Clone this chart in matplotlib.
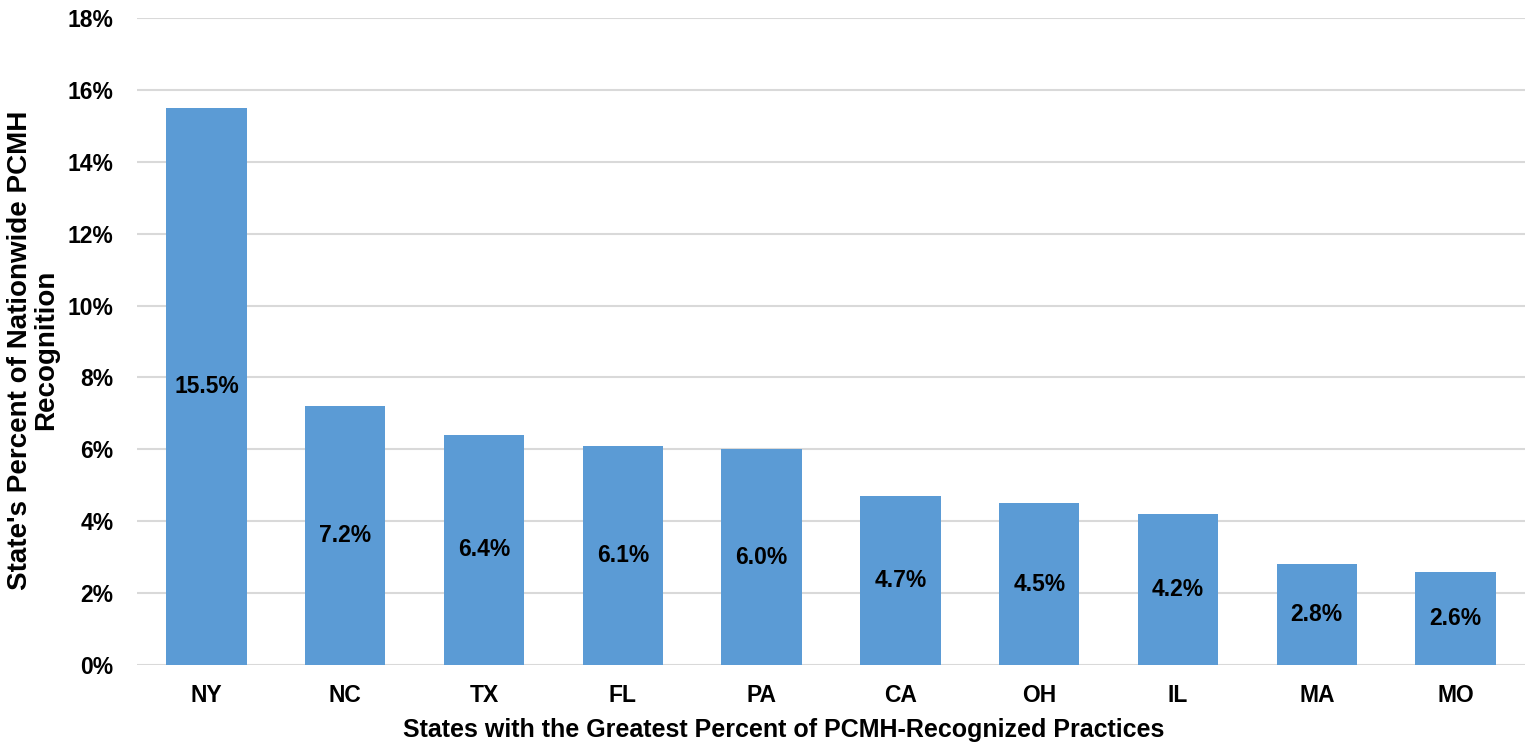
import matplotlib
matplotlib.use("Agg")
import matplotlib.pyplot as plt
from matplotlib.ticker import FuncFormatter, MultipleLocator

states = ["NY", "NC", "TX", "FL", "PA", "CA", "OH", "IL", "MA", "MO"]
values = [15.5, 7.2, 6.4, 6.1, 6.0, 4.7, 4.5, 4.2, 2.8, 2.6]

plt.rcParams['font.family'] = ['Liberation Sans', 'DejaVu Sans']
plt.rcParams['font.weight'] = 'bold'

fig = plt.figure(figsize=(15.31, 7.44), dpi=100)
ax = fig.add_axes([137/1531, 1 - 665/744, (1525-137)/1531, (665-18)/744])

x = list(range(len(states)))
bars = ax.bar(x, values, width=0.58, color="#5B9BD5", zorder=3)
for xi, v in zip(x, values):
    ax.text(xi, v/2, f"{v:.1f}%", ha="center", va="center", fontsize=16.5,
            fontweight="bold", color="black", zorder=4)

ax.set_xlim(-0.5, len(states)-0.5)
ax.set_ylim(0, 18)
ax.yaxis.set_major_locator(MultipleLocator(2))
ax.yaxis.set_major_formatter(FuncFormatter(lambda v, p: f"{v:.0f}%"))
ax.set_xticks(x)
ax.set_xticklabels(states)
ax.grid(axis="y", color="#D9D9D9", linewidth=1.5, zorder=0)
for s in ax.spines.values():
    s.set_visible(False)
ax.tick_params(axis="both", length=0, labelsize=16.5)
ax.tick_params(axis="y", pad=17)
ax.tick_params(axis="x", pad=14)
for lbl in ax.get_xticklabels() + ax.get_yticklabels():
    lbl.set_fontweight("bold")

fig.text(784/1531, 1 - 730/744,
         "States with the Greatest Percent of PCMH-Recognized Practices",
         ha="center", va="center", fontsize=18, fontweight="bold")
fig.text(33/1531, 1 - 350/744, "State's Percent of Nationwide PCMH\nRecognition",
         rotation=90, ha="center", va="center", fontsize=20, fontweight="bold",
         linespacing=1.0)

fig.savefig("out.png", dpi=100, facecolor="white")
